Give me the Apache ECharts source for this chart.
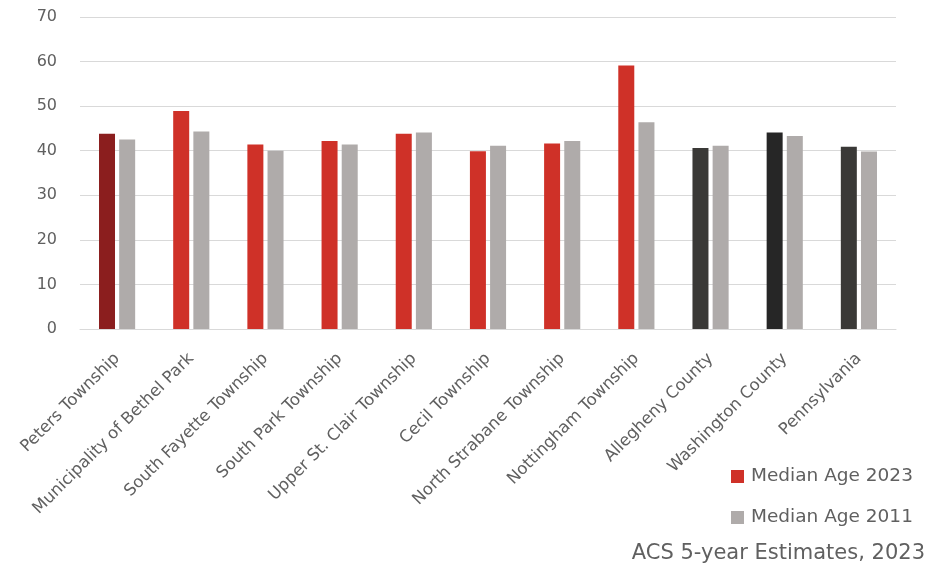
<!DOCTYPE html>
<html>
<head>
<meta charset="utf-8">
<script src="https://cdn.jsdelivr.net/npm/echarts@6/dist/echarts.min.js"></script>
<style>
  html, body { margin: 0; padding: 0; background: #fff; }
  #chart { width: 947px; height: 569px; }
</style>
</head>
<body>
<div id="chart"></div>
<script>
// Median age by municipality / county, ACS 5-year estimates
const categories = [
  'Peters Township', 'Municipality of Bethel Park', 'South Fayette Township',
  'South Park Township', 'Upper St. Clair Township', 'Cecil Township',
  'North Strabane Township', 'Nottingham Township', 'Allegheny County',
  'Washington County', 'Pennsylvania'
];
const medianAge2023 = [43.8, 48.9, 41.4, 42.2, 43.8, 39.9, 41.6, 59.1, 40.6, 44.1, 40.9];
const medianAge2011 = [42.5, 44.3, 40.0, 41.4, 44.1, 41.1, 42.2, 46.4, 41.1, 43.3, 39.8];
const yTicks = [0, 10, 20, 30, 40, 50, 60, 70];

// bar colours for the 2023 series: highlighted township, other townships, counties/state
const barColors2023 = [
  '#8b1e1e', '#cf3128', '#cf3128', '#cf3128', '#cf3128', '#cf3128',
  '#cf3128', '#cf3128', '#3a3937', '#262626', '#3a3937'
];

const textColor = '#606060';
const fontFamily = '"DejaVu Sans", sans-serif';

const chart = echarts.init(document.getElementById('chart'));
chart.setOption({
  animation: false,
  textStyle: { fontFamily: fontFamily, color: textColor },
  grid: { left: 80, right: 51, top: 17, bottom: 240, containLabel: false },
  title: {
    text: 'ACS 5-year Estimates, 2023',
    right: 17, bottom: 0,
    textStyle: { fontFamily: fontFamily, fontSize: 21, fontWeight: 'normal', color: textColor }
  },
  legend: {
    orient: 'vertical',
    left: 726, top: 462,
    itemWidth: 13, itemHeight: 13, itemGap: 22,
    icon: 'rect',
    textStyle: { fontFamily: fontFamily, fontSize: 18.5, color: textColor, padding: [0, 0, 0, 2] },
    data: ['Median Age 2023', 'Median Age 2011']
  },
  xAxis: {
    type: 'category',
    data: categories,
    axisLine: { lineStyle: { color: '#d9d9d9', width: 1 } },
    axisTick: { show: false },
    axisLabel: {
      interval: 0, rotate: 45, margin: 27,
      fontSize: 16.5, color: textColor, fontFamily: fontFamily
    }
  },
  yAxis: {
    type: 'value',
    min: yTicks[0], max: yTicks[yTicks.length - 1], interval: 10,
    axisLine: { show: false },
    axisTick: { show: false },
    splitLine: { lineStyle: { color: '#d9d9d9', width: 1 } },
    axisLabel: { margin: 23, fontSize: 16, color: textColor, fontFamily: fontFamily }
  },
  series: [
    {
      name: 'Median Age 2023',
      type: 'bar',
      barWidth: 16,
      barGap: '26%',
      itemStyle: { color: '#cf3128' },
      data: medianAge2023.map((v, i) => ({ value: v, itemStyle: { color: barColors2023[i] } }))
    },
    {
      name: 'Median Age 2011',
      type: 'bar',
      barWidth: 16,
      itemStyle: { color: '#afabaa' },
      data: medianAge2011
    }
  ]
});
</script>
</body>
</html>
